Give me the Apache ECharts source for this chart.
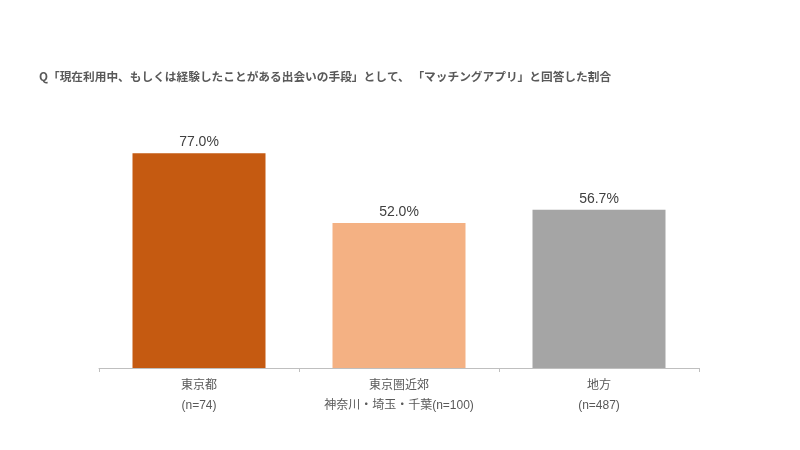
<!DOCTYPE html>
<html>
<head>
<meta charset="utf-8">
<script src="https://cdn.jsdelivr.net/npm/echarts@6/dist/echarts.min.js"></script>
<style>
  html, body { margin: 0; padding: 0; background: #fff; }
  #chart { width: 800px; height: 450px; }
</style>
</head>
<body>
<div id="chart"></div>
<script>
// Survey: share answering "matching app"
const categories = ['東京都\n(n=74)', '東京圏近郊\n神奈川・埼玉・千葉(n=100)', '地方\n(n=487)'];
const values = [77.0, 52.0, 56.7];
const barColors = ['#C55A11', '#F4B183', '#A5A5A5'];

const chart = echarts.init(document.getElementById('chart'));

chart.setOption({
    backgroundColor: '#ffffff',
    animation: false,
    title: {
        text: 'Q「現在利用中、もしくは経験したことがある出会いの手段」として、 「マッチングアプリ」と回答した割合',
        left: 34,
        top: 66,
        textStyle: {
            fontSize: 11.7,
            fontWeight: 'bold',
            color: '#595959',
            fontFamily: '"Noto Sans CJK JP", sans-serif'
        }
    },
    grid: {
        left: 99,
        right: 101,
        top: 89,
        bottom: 82
    },
    xAxis: {
        type: 'category',
        data: categories,
        axisLine: { lineStyle: { color: '#BFBFBF', width: 1 } },
        axisTick: { show: true, length: 4, lineStyle: { color: '#BFBFBF' } },
        axisLabel: {
            color: '#595959',
            fontSize: 12,
            lineHeight: 20,
            margin: 8,
            fontFamily: 'Arial, "Noto Sans CJK JP", sans-serif'
        }
    },
    yAxis: {
        type: 'value',
        min: 0,
        max: 100,
        show: false
    },
    series: [{
        type: 'bar',
        barWidth: '66.5%',
        data: values.map((v, i) => ({ value: v, itemStyle: { color: barColors[i] } })),
        label: {
            show: true,
            position: 'top',
            distance: 4,
            formatter: p => p.value.toFixed(1) + '%',
            color: '#404040',
            fontSize: 14,
            fontFamily: 'Arial, "Liberation Sans", sans-serif'
        }
    }]
});
</script>
</body>
</html>
